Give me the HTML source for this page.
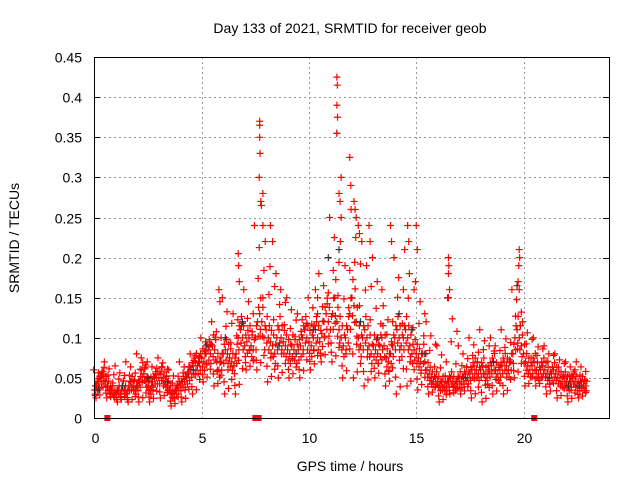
<!DOCTYPE html>
<html><head><meta charset="utf-8"><style>
body{margin:0;background:#fff}
svg{display:block;font-family:"Liberation Sans",sans-serif}
</style></head><body>
<svg id="chart" width="640" height="480">
<text x="350" y="33" font-size="14" text-anchor="middle" fill="#000">Day 133 of 2021, SRMTID for receiver geob</text>
<text x="350" y="471" font-size="14" text-anchor="middle">GPS time / hours</text>
<text transform="translate(19,238) rotate(-90)" font-size="14" text-anchor="middle">SRMTID / TECUs</text>
<g id="grid"></g><g id="ticks"></g><g id="pts"></g>
<rect x="94.5" y="57.5" width="515" height="361" fill="none" stroke="#000"/>
</svg>
<script>
const mid=[0.035,0.04,0.045,0.05,0.055,0.045,0.04,0.035,0.035,0.03,
0.03,0.035,0.03,0.04,0.035,0.03,0.04,0.045,0.04,0.035,
0.04,0.045,0.06,0.055,0.045,0.04,0.035,0.045,0.05,0.05,
0.05,0.055,0.05,0.045,0.04,0.035,0.03,0.03,0.035,0.04,
0.04,0.045,0.045,0.05,0.055,0.06,0.065,0.07,0.065,0.07,
0.075,0.07,0.08,0.085,0.08,0.09,0.085,0.07,0.06,0.07,
0.08,0.085,0.08,0.075,0.07,0.065,0.08,0.1,0.11,0.1,
0.09,0.095,0.1,0.09,0.085,0.1,0.12,0.13,0.12,0.1,
0.11,0.1,0.095,0.09,0.08,0.1,0.11,0.1,0.095,0.09,
0.085,0.08,0.09,0.085,0.08,0.085,0.09,0.1,0.11,0.1,
0.095,0.09,0.1,0.11,0.1,0.095,0.105,0.12,0.13,0.12,
0.11,0.13,0.15,0.12,0.11,0.1,0.09,0.1,0.11,0.13,
0.15,0.14,0.12,0.1,0.09,0.1,0.11,0.1,0.09,0.08,
0.09,0.085,0.08,0.09,0.1,0.09,0.075,0.07,0.08,0.09,
0.1,0.11,0.1,0.09,0.1,0.11,0.1,0.09,0.08,0.085,
0.08,0.075,0.07,0.08,0.07,0.06,0.055,0.05,0.045,0.05,
0.045,0.04,0.045,0.04,0.04,0.045,0.05,0.045,0.04,0.045,
0.05,0.045,0.05,0.055,0.05,0.055,0.06,0.065,0.06,0.055,
0.06,0.065,0.055,0.05,0.06,0.065,0.07,0.06,0.055,0.06,
0.065,0.07,0.065,0.06,0.07,0.08,0.1,0.11,0.1,0.09,
0.08,0.07,0.065,0.06,0.065,0.07,0.06,0.055,0.06,0.065,
0.06,0.055,0.05,0.055,0.06,0.055,0.05,0.05,0.045,0.05,
0.045,0.04,0.045,0.05,0.045,0.04,0.04,0.045,0.04,0.04];
const hi=[0.06,0.07,0.065,0.07,0.08,0.07,0.075,0.06,0.07,0.08,0.1,0.12,0.15,0.13,0.16,0.24,0.22,0.18,0.15,0.13,0.15,0.18,0.25,0.22,0.26,0.22,0.2,0.14,0.2,0.21,0.17,0.12,0.09,0.15,0.09,0.1,0.11,0.1,0.11,0.16,0.12,0.1,0.09,0.08,0.07,0.07];
const lo=[0.025,0.025,0.02,0.02,0.02,0.02,0.025,0.015,0.02,0.03,0.045,0.04,0.03,0.03,0.06,0.06,0.045,0.05,0.05,0.05,0.06,0.07,0.07,0.05,0.05,0.04,0.05,0.04,0.03,0.04,0.035,0.03,0.02,0.03,0.03,0.025,0.02,0.03,0.03,0.05,0.04,0.04,0.03,0.025,0.02,0.025];
const peakT=[7.7,7.7,7.7,7.72,7.68,7.75,7.78,7.85,7.85,6.7,6.72,6.75,11.3,11.32,11.3,11.33,11.3,11.5,11.4,11.45,11.5,11.9,11.95,12.1,12.15,12.2,12.3,12.35,16.5,16.52,16.5,16.55,16.5,19.8,19.82,19.78,19.75,19.8,13.8,13.85,15.0,15.05,14.6,14.65,5.8,5.85,8.2,8.3,12.8,12.85,10.3,10.4];
const peakV=[0.37,0.365,0.35,0.33,0.3,0.27,0.265,0.28,0.24,0.205,0.19,0.17,0.425,0.415,0.39,0.375,0.355,0.3,0.28,0.27,0.25,0.325,0.29,0.27,0.26,0.25,0.24,0.23,0.2,0.19,0.18,0.16,0.15,0.21,0.2,0.19,0.17,0.16,0.24,0.22,0.24,0.21,0.24,0.22,0.16,0.145,0.24,0.22,0.24,0.22,0.16,0.15];
const blackT=[0.2,1.3,2.5,3.4,4.6,5.2,6.1,6.9,8.6,9.4,10.2,10.9,11.3,11.4,12.4,13.2,14.2,14.8,15.4,16.5,17.3,18.6,19.7,21.2,22.1,22.6];
const blackV=[0.035,0.04,0.05,0.045,0.06,0.09,0.1,0.12,0.09,0.08,0.11,0.2,0.355,0.21,0.12,0.1,0.13,0.11,0.08,0.15,0.05,0.07,0.165,0.05,0.04,0.04];
const markT=[0.6,7.5,7.65,20.5];
const xTicks=[0,5,10,15,20];
const yTicks=[0,0.05,0.1,0.15,0.2,0.25,0.3,0.35,0.4,0.45];
const yLabels=["0","0.05","0.1","0.15","0.2","0.25","0.3","0.35","0.4","0.45"];
const X=t=>94.5+t*21.45, Y=v=>418-v*802;
const NS='http://www.w3.org/2000/svg';
const grid=document.getElementById('grid'),ticks=document.getElementById('ticks'),pts=document.getElementById('pts');
function mk(tag,a,p){const e=document.createElementNS(NS,tag);for(const k in a)e.setAttribute(k,a[k]);p.appendChild(e);return e;}
xTicks.forEach(t=>{const x=Math.round(X(t))+0.5;
 if(t>0){const g=mk('line',{x1:x,x2:x,y1:57,y2:418,stroke:'#999','stroke-dasharray':'2,3'},grid);
 
 }
 const l=mk('text',{x:x,y:443,'font-size':14,'text-anchor':'middle'},ticks);l.textContent=t;
 
 });
yTicks.forEach((v,i)=>{const y=Math.round(Y(v))+0.5;
 if(v>0){const g=mk('line',{x1:94,x2:609,y1:y,y2:y,stroke:'#999','stroke-dasharray':'2,3'},grid);
 
 
 mk('line',{x1:94,x2:100,y1:y,y2:y,stroke:'#000'},ticks);mk('line',{x1:603,x2:609,y1:y,y2:y,stroke:'#000'},ticks);}
 const l=mk('text',{x:82,y:y+5,'font-size':14,'text-anchor':'end'},ticks);l.textContent=yLabels[i];
 
 });
function cross(t,v,c){const x=X(t),y=Y(v);
 const p=mk('path',{d:`M${x-3.5} ${y}h7M${x} ${y-3.5}v7`,stroke:c,'stroke-width':1.2},pts);
 
 }
const offs=[-0.04,0.03,-0.02,0.05,0];
const frH=[1,0.45,0.75,0.25,0.6];
const frL=[0.7,1,0.4,0.85,0.55];
mid.forEach((v,i)=>{const t=i*0.1;cross(t,v,'#e00');cross(t+0.05,v*1.15,'#f00');cross(t+0.03,v*0.85,'#f00');
 const b=Math.floor(i/5),k=i%5;
 cross(t+offs[k],v+(hi[b]-v)*frH[k],'#f00');
 cross(t-offs[k],v-(v-lo[b])*frL[k],'#f00');});
blackT.forEach((t,i)=>cross(t,blackV[i],'#333'));
peakT.forEach((t,i)=>cross(t,peakV[i],'#f00'));
markT.forEach(t=>{const r=mk('rect',{x:X(t)-3,y:415,width:6,height:6,fill:'#f00'},pts);
 
 });
</script>
</body></html>
